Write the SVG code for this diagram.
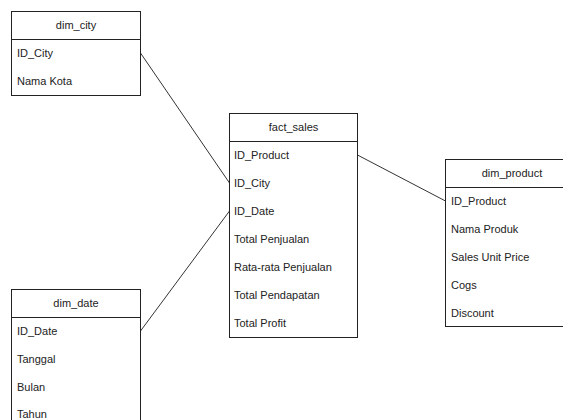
<svg xmlns="http://www.w3.org/2000/svg" width="563" height="420" viewBox="0 0 563 420">
<style>
.box{fill:#fff;stroke:#222;stroke-width:1}
.sep{stroke:#222;stroke-width:1}
.t{font-family:"Liberation Sans",Arial,sans-serif;font-size:11px;fill:#222;dominant-baseline:central}
.h{text-anchor:middle}
.c{fill:none;stroke:#333;stroke-width:1}
</style>
<rect width="563" height="420" fill="#fff"/>
<g id="connectors">
<path class="c" d="M140.5 53 L229.5 183"/>
<path class="c" d="M140.5 331 L229.5 211"/>
<path class="c" d="M357.5 155 L445.5 201"/>
</g>
<g id="dim_city">
<rect class="box" x="11.5" y="11.5" width="129" height="84"/>
<line class="sep" x1="11.5" y1="39.5" x2="140.5" y2="39.5"/>
<text class="t h" x="76" y="25">dim_city</text>
<text class="t" x="17" y="53">ID_City</text>
<text class="t" x="17" y="81">Nama Kota</text>
</g>
<g id="fact_sales">
<rect class="box" x="229.5" y="113.5" width="128" height="224"/>
<line class="sep" x1="229.5" y1="141.5" x2="357.5" y2="141.5"/>
<text class="t h" x="293.5" y="127">fact_sales</text>
<text class="t" x="234" y="155">ID_Product</text>
<text class="t" x="234" y="183">ID_City</text>
<text class="t" x="234" y="211">ID_Date</text>
<text class="t" x="234" y="239">Total Penjualan</text>
<text class="t" x="234" y="267">Rata-rata Penjualan</text>
<text class="t" x="234" y="295">Total Pendapatan</text>
<text class="t" x="234" y="323">Total Profit</text>
</g>
<g id="dim_product">
<rect class="box" x="445.5" y="159.5" width="134" height="167"/>
<line class="sep" x1="445.5" y1="187.5" x2="579.5" y2="187.5"/>
<text class="t h" x="512" y="173">dim_product</text>
<text class="t" x="451" y="201">ID_Product</text>
<text class="t" x="451" y="229">Nama Produk</text>
<text class="t" x="451" y="257">Sales Unit Price</text>
<text class="t" x="451" y="285">Cogs</text>
<text class="t" x="451" y="313">Discount</text>
</g>
<g id="dim_date">
<rect class="box" x="11.5" y="289.5" width="129" height="150"/>
<line class="sep" x1="11.5" y1="317.5" x2="140.5" y2="317.5"/>
<text class="t h" x="76" y="303">dim_date</text>
<text class="t" x="17" y="331">ID_Date</text>
<text class="t" x="17" y="359">Tanggal</text>
<text class="t" x="17" y="387">Bulan</text>
<text class="t" x="17" y="414">Tahun</text>
</g>
</svg>
